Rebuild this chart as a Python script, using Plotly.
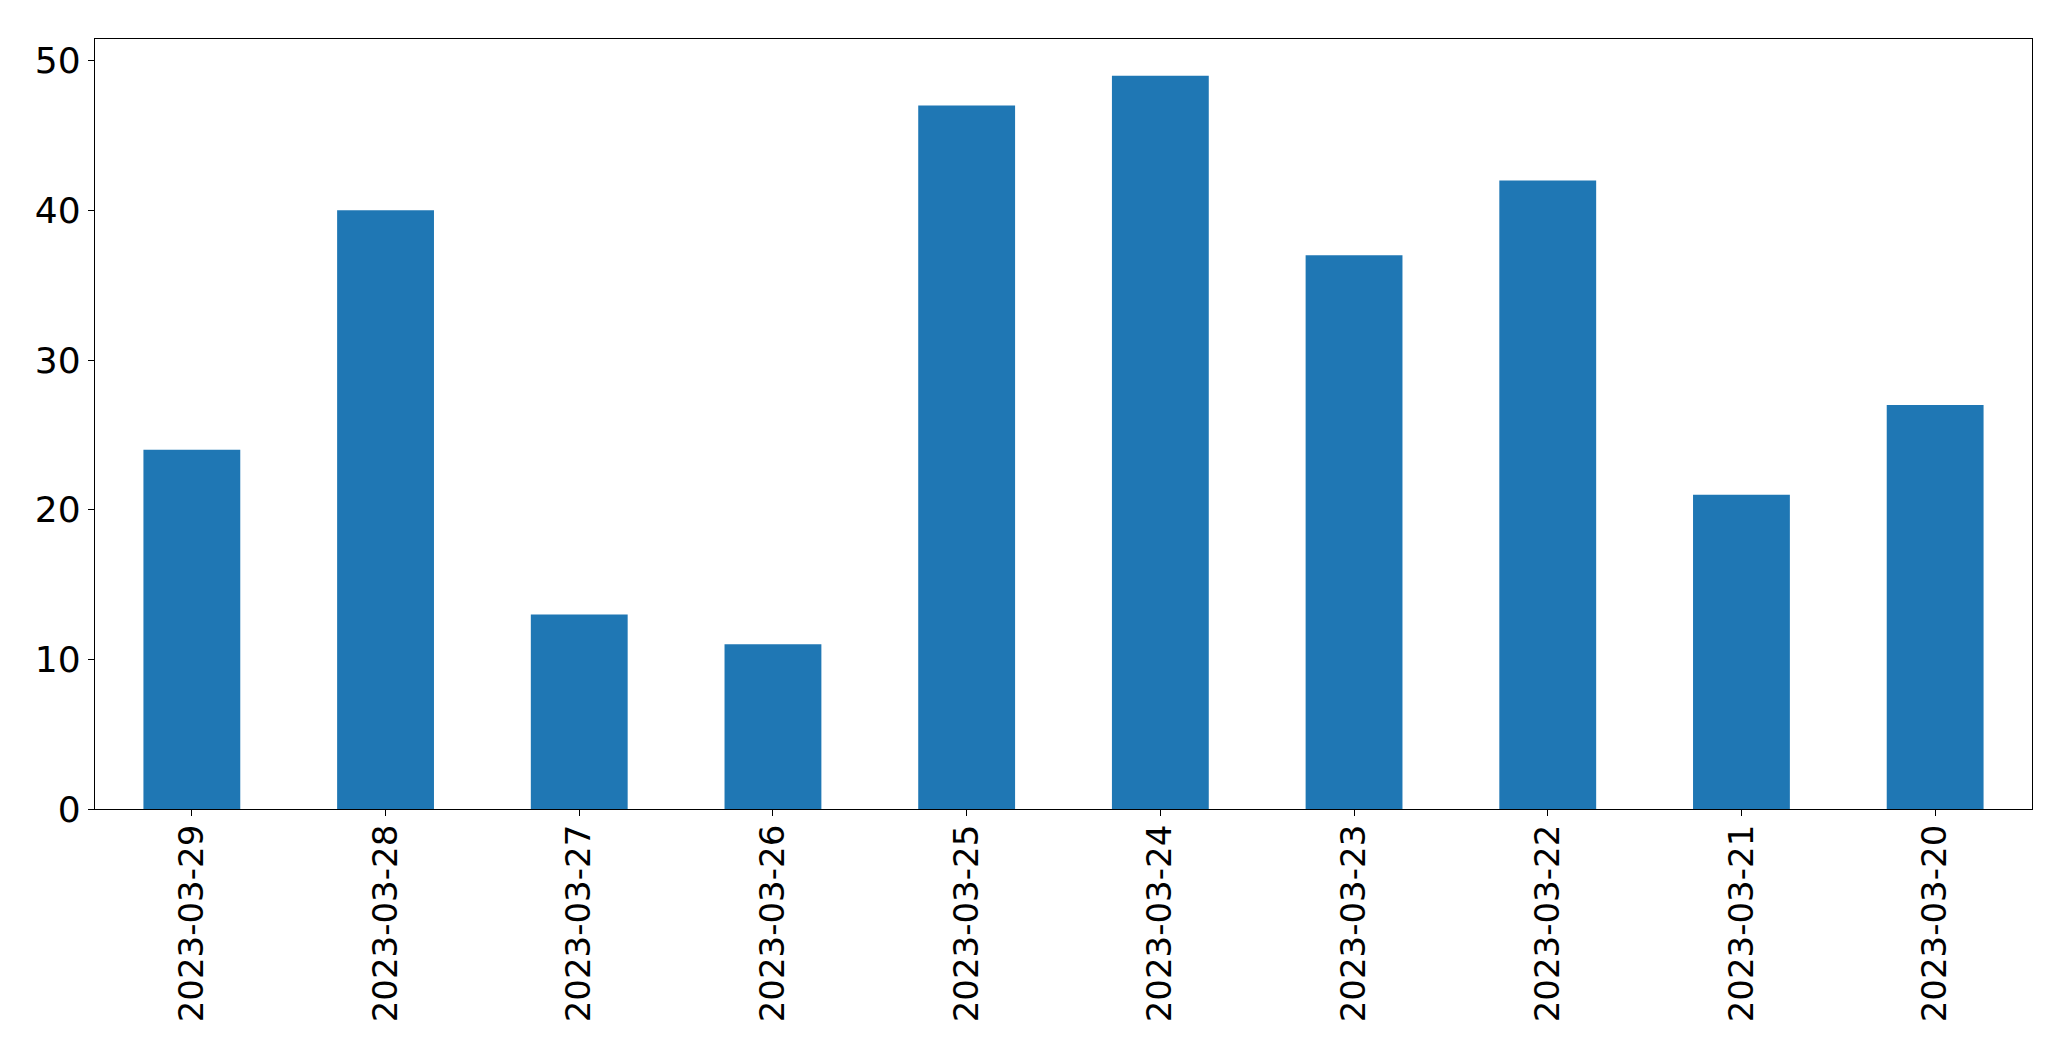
import plotly.graph_objects as go

dates = ["2023-03-29", "2023-03-28", "2023-03-27", "2023-03-26", "2023-03-25",
         "2023-03-24", "2023-03-23", "2023-03-22", "2023-03-21", "2023-03-20"]
counts = [24, 40, 13, 11, 47, 49, 37, 42, 21, 27]
y_ticks = [0, 10, 20, 30, 40, 50]

fig = go.Figure(go.Bar(x=dates, y=counts, marker=dict(color="#1f77b4", line=dict(width=0)), width=0.5))

fig.update_layout(
    width=2071, height=1061,
    margin=dict(l=95, r=39, t=39, b=252),
    plot_bgcolor="white", paper_bgcolor="white",
    font=dict(family="DejaVu Sans", size=35, color="black"),
    showlegend=False,
    xaxis=dict(type="category", range=[-0.5, 9.5], tickangle=-90,
               tickfont=dict(size=34), ticklabelstandoff=-5,
               showline=True, mirror=True, linecolor="black", linewidth=1.3,
               ticks="outside", ticklen=6, tickwidth=1.3, tickcolor="black",
               showgrid=False, zeroline=False),
    yaxis=dict(range=[0, 51.45], tickvals=y_ticks,
               tickfont=dict(size=36),
               showline=True, mirror=True, linecolor="black", linewidth=1.3,
               ticks="outside", ticklen=6, tickwidth=1.3, tickcolor="black",
               showgrid=False, zeroline=False),
)

fig.write_html("out.html")
